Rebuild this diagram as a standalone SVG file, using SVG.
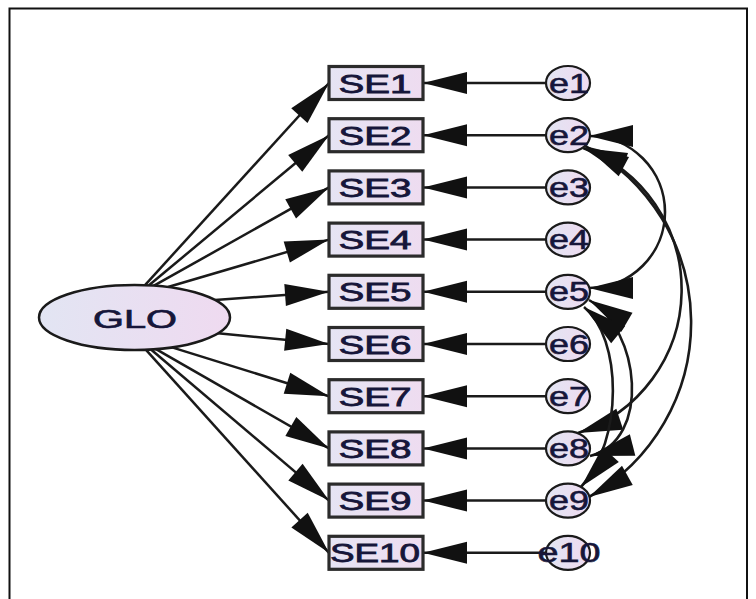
<svg xmlns="http://www.w3.org/2000/svg" width="756" height="599" viewBox="0 0 756 599">
<defs>
<linearGradient id="gEll" x1="0" y1="0" x2="1" y2="0">
<stop offset="0" stop-color="#e2e5f3"/>
<stop offset="1" stop-color="#efdaf0"/>
</linearGradient>
<linearGradient id="gBox" x1="0" y1="0" x2="1" y2="0">
<stop offset="0" stop-color="#e6e4f4"/>
<stop offset="1" stop-color="#eedcf0"/>
</linearGradient>
<marker id="ah" markerUnits="userSpaceOnUse" markerWidth="60" markerHeight="30" refX="0" refY="0" viewBox="-50 -15 60 30" orient="auto-start-reverse" overflow="visible">
<path d="M0,0 L-44,-11 L-44,11 Z" fill="#111"/>
</marker>
</defs>
<style>
.frame{fill:#fff;stroke:#111;stroke-width:2}
.box{fill:url(#gBox);stroke:#2b2b2b;stroke-width:3.2}
.err{fill:url(#gEll);stroke:#1a1a1a;stroke-width:2.2}
.lat{fill:url(#gEll);stroke:#1a1a1a;stroke-width:2.5}
.t{font-family:"Liberation Sans",Arial,sans-serif;fill:#16163a;stroke:#16163a;text-anchor:middle}
.tb{font-size:26px;stroke-width:0.8}
.te{font-size:27px;stroke-width:0.6}
.tl{font-size:25px;stroke-width:0.7}
.arr{fill:none;stroke:#1a1a1a;stroke-width:2.5;marker-end:url(#ah)}
.cov{fill:none;stroke:#1a1a1a;stroke-width:2.6;marker-start:url(#ah);marker-end:url(#ah)}
</style>
<rect class="frame" x="9.5" y="8.5" width="737.5" height="610"/>
<g id="connectors">
<path class="arr" d="M145,285.1 L329,83"/>
<path class="arr" d="M149,285.3 L329,135.2"/>
<path class="arr" d="M154,285.7 L329,187.4"/>
<path class="arr" d="M168,287 L329,239.6"/>
<path class="arr" d="M215,300 L329,291.8"/>
<path class="arr" d="M218,333.3 L329,344"/>
<path class="arr" d="M172,347.4 L329,396.2"/>
<path class="arr" d="M156,349.2 L329,448.4"/>
<path class="arr" d="M151,349.5 L329,500.6"/>
<path class="arr" d="M146,349.8 L329,552.8"/>
<path class="arr" d="M546,83 L423,83"/>
<path class="arr" d="M546,135.2 L423,135.2"/>
<path class="arr" d="M546,187.4 L423,187.4"/>
<path class="arr" d="M546,239.6 L423,239.6"/>
<path class="arr" d="M546,291.8 L423,291.8"/>
<path class="arr" d="M546,344 L423,344"/>
<path class="arr" d="M546,396.2 L423,396.2"/>
<path class="arr" d="M546,448.4 L423,448.4"/>
<path class="arr" d="M546,500.6 L423,500.6"/>
<path class="arr" d="M546,552.8 L423,552.8"/>
<path class="cov" d="M589,136 A76,76 0 0 1 589,288"/>
<path class="cov" d="M583,148 A151,151 0 0 1 578,433"/>
<path class="cov" d="M585,146 A200,200 0 0 1 589,497"/>
<path class="cov" d="M589,300 C640,330 652,440 590,456"/>
<path class="cov" d="M584,307 C622,338 624,440 581,487"/>
</g>
<g id="GLO">
<ellipse class="lat" cx="134.5" cy="317.5" rx="95.5" ry="32.5"/>
<text class="t tl" x="135" y="328" textLength="84" lengthAdjust="spacingAndGlyphs">GLO</text>
</g>
<g id="SE1"><rect class="box" x="329" y="66.5" width="94" height="33"/><text class="t tb" x="375" y="92.5" textLength="73" lengthAdjust="spacingAndGlyphs">SE1</text></g>
<g id="SE2"><rect class="box" x="329" y="118.7" width="94" height="33"/><text class="t tb" x="375" y="144.7" textLength="73" lengthAdjust="spacingAndGlyphs">SE2</text></g>
<g id="SE3"><rect class="box" x="329" y="170.9" width="94" height="33"/><text class="t tb" x="375" y="196.9" textLength="73" lengthAdjust="spacingAndGlyphs">SE3</text></g>
<g id="SE4"><rect class="box" x="329" y="223.1" width="94" height="33"/><text class="t tb" x="375" y="249.1" textLength="73" lengthAdjust="spacingAndGlyphs">SE4</text></g>
<g id="SE5"><rect class="box" x="329" y="275.3" width="94" height="33"/><text class="t tb" x="375" y="301.3" textLength="73" lengthAdjust="spacingAndGlyphs">SE5</text></g>
<g id="SE6"><rect class="box" x="329" y="327.5" width="94" height="33"/><text class="t tb" x="375" y="353.5" textLength="73" lengthAdjust="spacingAndGlyphs">SE6</text></g>
<g id="SE7"><rect class="box" x="329" y="379.7" width="94" height="33"/><text class="t tb" x="375" y="405.7" textLength="73" lengthAdjust="spacingAndGlyphs">SE7</text></g>
<g id="SE8"><rect class="box" x="329" y="431.9" width="94" height="33"/><text class="t tb" x="375" y="457.9" textLength="73" lengthAdjust="spacingAndGlyphs">SE8</text></g>
<g id="SE9"><rect class="box" x="329" y="484.1" width="94" height="33"/><text class="t tb" x="375" y="510.1" textLength="73" lengthAdjust="spacingAndGlyphs">SE9</text></g>
<g id="SE10"><rect class="box" x="329" y="536.3" width="94" height="33"/><text class="t tb" x="375" y="562.3" textLength="90" lengthAdjust="spacingAndGlyphs">SE10</text></g>
<g id="e1"><ellipse class="err" cx="568" cy="83" rx="22" ry="17"/><text class="t te" x="569" y="92.5" textLength="40" lengthAdjust="spacingAndGlyphs">e1</text></g>
<g id="e2"><ellipse class="err" cx="568" cy="135.2" rx="22" ry="17"/><text class="t te" x="569" y="144.7" textLength="40" lengthAdjust="spacingAndGlyphs">e2</text></g>
<g id="e3"><ellipse class="err" cx="568" cy="187.4" rx="22" ry="17"/><text class="t te" x="569" y="196.9" textLength="40" lengthAdjust="spacingAndGlyphs">e3</text></g>
<g id="e4"><ellipse class="err" cx="568" cy="239.6" rx="22" ry="17"/><text class="t te" x="569" y="249.1" textLength="40" lengthAdjust="spacingAndGlyphs">e4</text></g>
<g id="e5"><ellipse class="err" cx="568" cy="291.8" rx="22" ry="17"/><text class="t te" x="569" y="301.3" textLength="40" lengthAdjust="spacingAndGlyphs">e5</text></g>
<g id="e6"><ellipse class="err" cx="568" cy="344" rx="22" ry="17"/><text class="t te" x="569" y="353.5" textLength="40" lengthAdjust="spacingAndGlyphs">e6</text></g>
<g id="e7"><ellipse class="err" cx="568" cy="396.2" rx="22" ry="17"/><text class="t te" x="569" y="405.7" textLength="40" lengthAdjust="spacingAndGlyphs">e7</text></g>
<g id="e8"><ellipse class="err" cx="568" cy="448.4" rx="22" ry="17"/><text class="t te" x="569" y="457.9" textLength="40" lengthAdjust="spacingAndGlyphs">e8</text></g>
<g id="e9"><ellipse class="err" cx="568" cy="500.6" rx="22" ry="17"/><text class="t te" x="569" y="510.1" textLength="40" lengthAdjust="spacingAndGlyphs">e9</text></g>
<g id="e10"><ellipse class="err" cx="568" cy="552.8" rx="22" ry="17"/><text class="t te" x="569" y="562.3" textLength="63" lengthAdjust="spacingAndGlyphs">e10</text></g>
</svg>
